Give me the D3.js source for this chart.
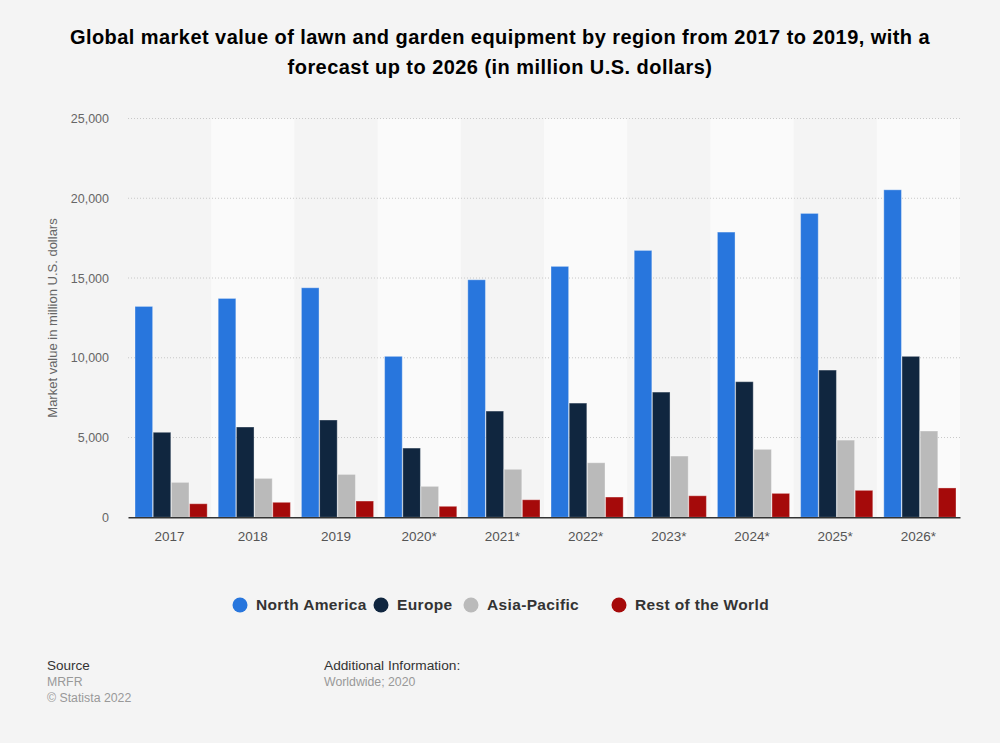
<!DOCTYPE html>
<html>
<head>
<meta charset="utf-8">
<script src="https://cdn.jsdelivr.net/npm/d3@7"></script>
<style>
  body { margin: 0; background: #f4f4f4; }
  svg { display: block; font-family: "Liberation Sans", Arial, sans-serif; }
</style>
</head>
<body>
<svg width="1000" height="743"></svg>
<script>
// data
const years = ["2017", "2018", "2019", "2020*", "2021*", "2022*", "2023*", "2024*", "2025*", "2026*"];
const regions = ["North America", "Europe", "Asia-Pacific", "Rest of the World"];
const northAmerica = [13220, 13720, 14390, 10090, 14890, 15730, 16730, 17880, 19050, 20530];
const europe = [5330, 5660, 6100, 4340, 6660, 7160, 7850, 8500, 9230, 10090];
const asiaPacific = [2190, 2440, 2690, 1940, 3010, 3420, 3840, 4260, 4840, 5410];
const restOfWorld = [850, 940, 1020, 690, 1100, 1270, 1350, 1500, 1690, 1840];
const yTicks = [0, 5000, 10000, 15000, 20000, 25000];

const series = [northAmerica, europe, asiaPacific, restOfWorld];
const colors = ["#2876dd", "#10263f", "#bababa", "#a50a0a"];

const svg = d3.select("svg");

// title
svg.append("text")
  .attr("x", 500).attr("y", 44)
  .attr("text-anchor", "middle")
  .style("font-weight", "bold").style("font-size", "20px").style("letter-spacing", "0.45px").style("fill", "#000")
  .selectAll("tspan")
  .data(["Global market value of lawn and garden equipment by region from 2017 to 2019, with a",
         "forecast up to 2026 (in million U.S. dollars)"])
  .enter().append("tspan")
  .attr("x", 500).attr("dy", (d, i) => i ? 30 : 0)
  .text(d => d);

const x0 = d3.scaleBand().domain(years).range([128, 960]);
const x1 = d3.scaleBand().domain(regions).range([7, x0.bandwidth() - 4]).paddingInner(0.03);
const y = d3.scaleLinear().domain([0, 25000]).range([517.3, 118.5]);

// alternating column backgrounds
svg.append("g").selectAll("rect")
  .data(years.filter((d, i) => i % 2 === 1))
  .enter().append("rect")
  .attr("x", d => x0(d)).attr("width", x0.bandwidth())
  .attr("y", y(25000)).attr("height", y(0) - y(25000))
  .style("fill", "#fafafa");

// grid
svg.append("g").selectAll("line")
  .data(yTicks.filter(d => d > 0))
  .enter().append("line")
  .attr("x1", 128).attr("x2", 960)
  .attr("y1", d => y(d)).attr("y2", d => y(d))
  .style("stroke", "#c8c8c8").style("stroke-dasharray", "1,2");

// y axis
const yAxis = svg.append("g")
  .attr("transform", "translate(109,0)")
  .call(d3.axisLeft(y).tickValues(yTicks).tickSize(0).tickPadding(0).tickFormat(d3.format(",")));
yAxis.select(".domain").remove();
yAxis.selectAll("text").style("font-size", "12.5px").style("fill", "#666").attr("dy", "0.32em");

svg.append("text")
  .attr("transform", "translate(57,318) rotate(-90)")
  .attr("text-anchor", "middle")
  .style("font-size", "13px").style("fill", "#666")
  .text("Market value in million U.S. dollars");

// bars
const groups = svg.append("g").selectAll("g")
  .data(years)
  .enter().append("g")
  .attr("transform", d => `translate(${x0(d)},0)`);

groups.selectAll("rect")
  .data((d, i) => regions.map((r, k) => ({ r: r, k: k, v: series[k][i] })))
  .enter().append("rect")
  .attr("x", d => x1(d.r))
  .attr("width", x1.bandwidth())
  .attr("y", d => y(d.v))
  .attr("height", d => y(0) - y(d.v))
  .style("fill", d => colors[d.k])
  .style("stroke", "rgba(255,255,255,0.35)").style("stroke-width", 1);

// x axis
const xAxis = svg.append("g")
  .attr("transform", `translate(0,${y(0)})`)
  .call(d3.axisBottom(x0).tickSize(0).tickPadding(14));
xAxis.select(".domain").style("stroke", "#333").style("stroke-width", 1.5);
xAxis.selectAll("text").style("font-size", "13.5px").style("fill", "#555");

// legend
const legendX = [240, 381, 471, 619];
const legend = svg.append("g").selectAll("g")
  .data(regions)
  .enter().append("g")
  .attr("transform", (d, i) => `translate(${legendX[i]},605)`);
legend.append("circle").attr("r", 7.5).style("fill", (d, i) => colors[i]);
legend.append("text")
  .attr("x", 16).attr("dy", "0.35em")
  .style("font-size", "15.5px").style("font-weight", "bold").style("letter-spacing", "0.35px").style("fill", "#333")
  .text(d => d);

// footer
const foot = [
  { x: 47, y: 670, t: "Source", c: "#333", s: 13.5 },
  { x: 47, y: 686, t: "MRFR", c: "#999", s: 12.3 },
  { x: 47, y: 702, t: "© Statista 2022", c: "#999", s: 12.3 },
  { x: 324, y: 670, t: "Additional Information:", c: "#333", s: 13.7 },
  { x: 324, y: 686, t: "Worldwide; 2020", c: "#999", s: 12.3 }
];
svg.append("g").selectAll("text")
  .data(foot)
  .enter().append("text")
  .attr("x", d => d.x).attr("y", d => d.y)
  .style("font-size", d => d.s + "px").style("fill", d => d.c)
  .text(d => d.t);
</script>
</body>
</html>
